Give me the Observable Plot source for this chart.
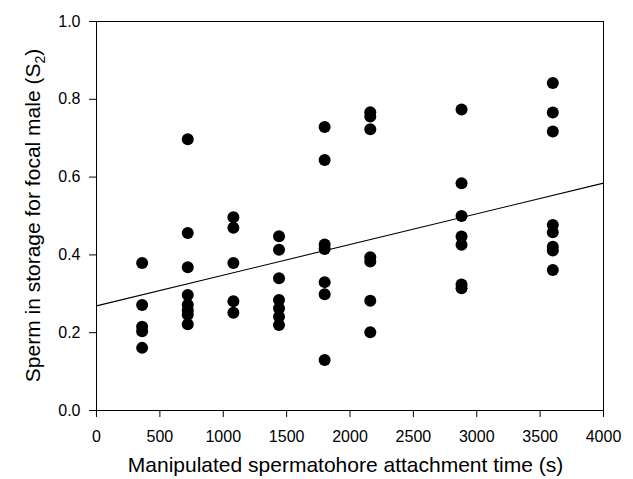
<!DOCTYPE html>
<html>
<head>
<meta charset="utf-8">
<script src="https://cdn.jsdelivr.net/npm/d3@7"></script>
<script src="https://cdn.jsdelivr.net/npm/@observablehq/plot@0.6"></script>
<style>
  html, body { margin: 0; padding: 0; background: #fff; }
  #chart svg { font-family: "Liberation Sans", Arial, sans-serif; }
</style>
</head>
<body>
<div id="chart"></div>
<script>
// Manipulated spermatophore attachment times (s)
const attachTimes = [360, 720, 1080, 1440, 1800, 2160, 2880, 3600];
// Sperm in storage for focal male (S2), one list per attachment time
const s2At360  = [0.379, 0.271, 0.215, 0.204, 0.161];
const s2At720  = [0.697, 0.456, 0.368, 0.297, 0.272, 0.258, 0.246, 0.222];
const s2At1080 = [0.497, 0.470, 0.379, 0.281, 0.251];
const s2At1440 = [0.448, 0.413, 0.340, 0.284, 0.263, 0.241, 0.220];
const s2At1800 = [0.729, 0.644, 0.427, 0.415, 0.330, 0.299, 0.130];
const s2At2160 = [0.767, 0.756, 0.723, 0.394, 0.383, 0.282, 0.201];
const s2At2880 = [0.774, 0.584, 0.500, 0.447, 0.426, 0.324, 0.314];
const s2At3600 = [0.842, 0.766, 0.717, 0.477, 0.458, 0.421, 0.411, 0.361];
const s2Lists = [s2At360, s2At720, s2At1080, s2At1440, s2At1800, s2At2160, s2At2880, s2At3600];

// regression line as printed in the figure (intercept, slope per s)
const fitIntercept = 0.269;
const fitSlope = 0.0000789;

const xTicks = [0, 500, 1000, 1500, 2000, 2500, 3000, 3500, 4000];
const yTicks = [0, 0.2, 0.4, 0.6, 0.8, 1.0];
const xDomain = [0, 4000];
const yDomain = [0, 1];

const points = attachTimes.flatMap((t, i) => s2Lists[i].map(v => ({t, v})));
const fitLine = xDomain.map(t => ({t, v: fitIntercept + fitSlope * t}));

const W = 633, H = 479;
const mL = 96, mR = 30, mT = 21, mB = 69;

const chart = Plot.plot({
  width: W, height: H,
  marginLeft: mL, marginRight: mR, marginTop: mT, marginBottom: mB,
  style: {fontFamily: '"Liberation Sans", Arial, sans-serif', fontSize: "16px", color: "#000", background: "#fff"},
  x: {domain: xDomain, ticks: xTicks, tickFormat: d => String(d), label: null},
  y: {domain: yDomain, ticks: yTicks, tickFormat: d => d.toFixed(1), label: null},
  marks: [
    Plot.frame({stroke: "#000", strokeWidth: 1}),
    Plot.axisX({ticks: xTicks, tickFormat: d => String(d), tickSize: 7, tickPadding: 13, fontSize: 16, label: null}),
    Plot.axisY({ticks: yTicks, tickFormat: d => d.toFixed(1), tickSize: 7, tickPadding: 9, fontSize: 16, label: null}),
    Plot.line(fitLine, {x: "t", y: "v", stroke: "#000", strokeWidth: 1.1}),
    Plot.dot(points, {x: "t", y: "v", r: 6, fill: "#000", stroke: "none"})
  ]
});
document.getElementById("chart").appendChild(chart);

// axis titles (with subscript)
const svg = d3.select(chart);
const plotCx = mL + (W - mL - mR) / 2;
const plotCy = mT + (H - mT - mB) / 2;
svg.append("text")
  .attr("x", plotCx - 4).attr("y", 472)
  .attr("text-anchor", "middle")
  .attr("font-size", 21).attr("fill", "#000")
  .text("Manipulated spermatohore attachment time (s)");
const yt = svg.append("text")
  .attr("transform", `translate(40,${plotCy}) rotate(-90)`)
  .attr("text-anchor", "middle")
  .attr("font-size", 21).attr("fill", "#000");
yt.append("tspan").text("Sperm in storage for focal male (S");
yt.append("tspan").attr("font-size", 14).attr("dy", 5).text("2");
yt.append("tspan").attr("dy", -5).text(")");
</script>
</body>
</html>
